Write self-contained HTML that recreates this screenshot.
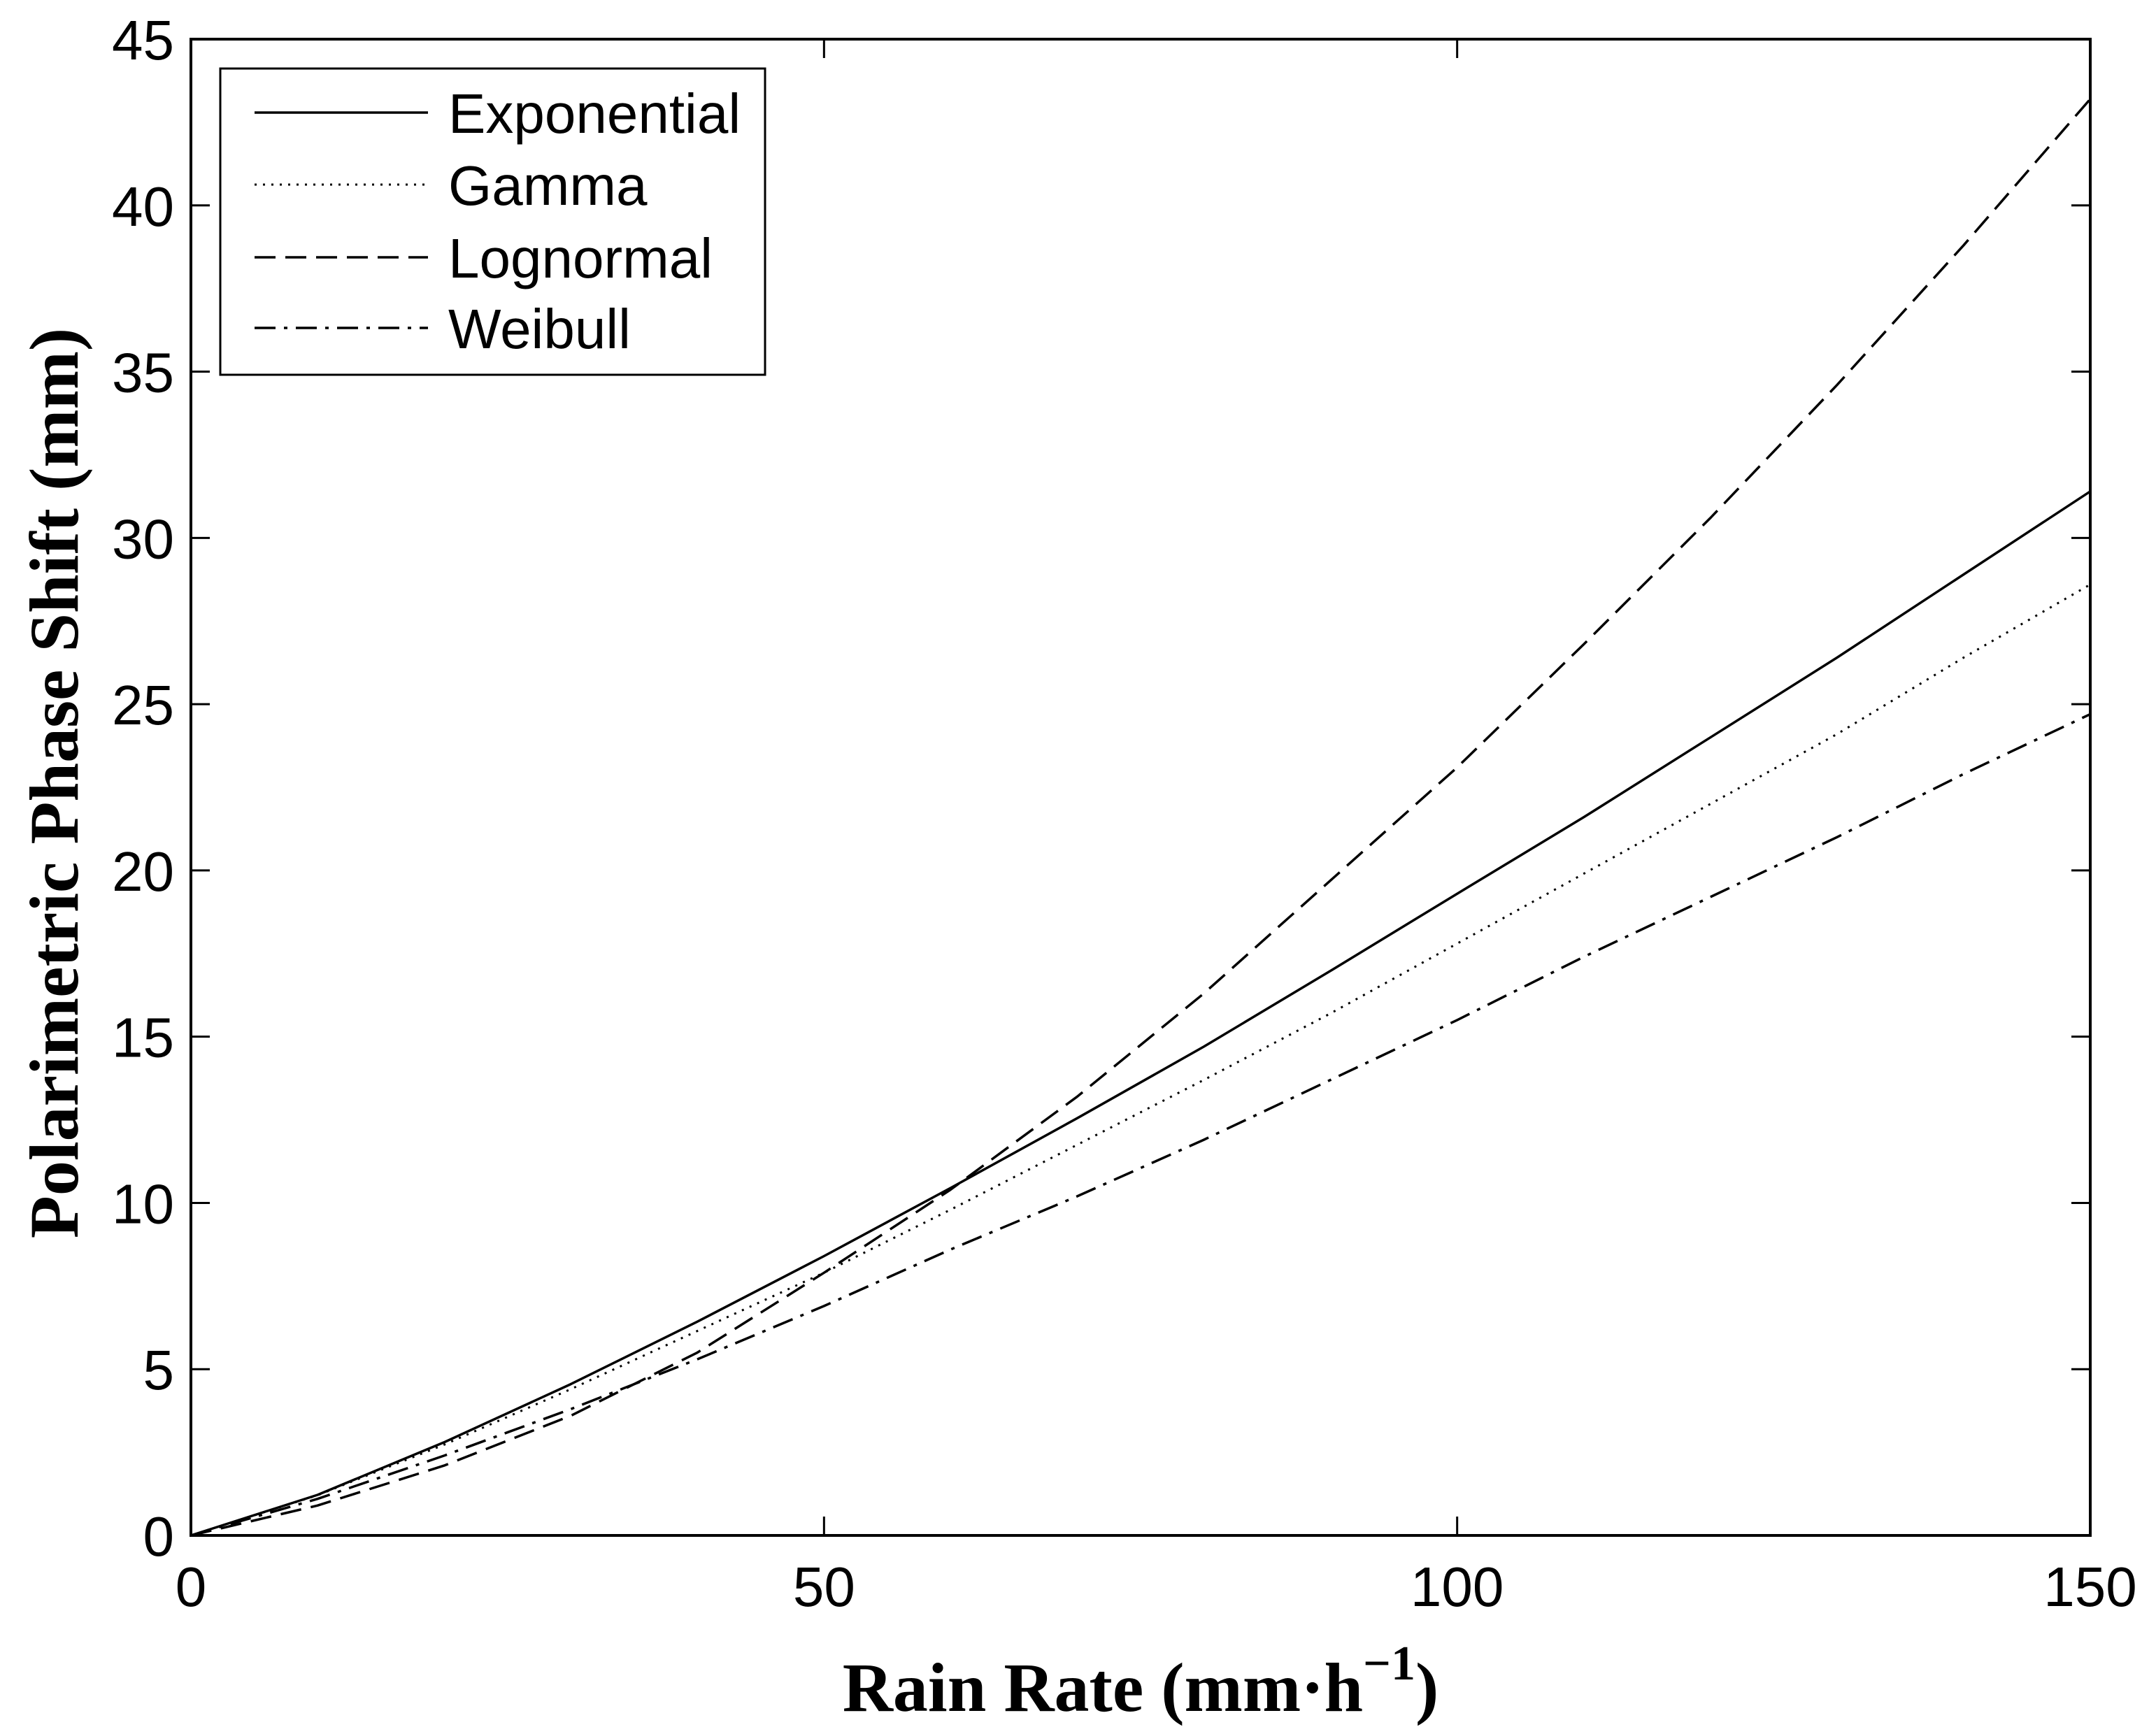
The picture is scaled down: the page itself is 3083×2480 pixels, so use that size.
<!DOCTYPE html>
<html><head><meta charset="utf-8"><style>
body{margin:0;background:#fff}
svg{display:block}
text{font-family:"Liberation Sans",Arial,sans-serif;fill:#000}
.ttl{font-family:"Liberation Serif","Times New Roman",serif;font-weight:bold}
</style></head><body>
<svg id="chart" width="3083" height="2480" viewBox="0 0 3083 2480" xmlns="http://www.w3.org/2000/svg">
<g id="plot"></g>
<text class="ttl" x="1631" y="2447" font-size="100" text-anchor="middle">Rain Rate (mm·h<tspan dy="-45" font-size="70">−1</tspan><tspan dy="45">)</tspan></text>
<text class="ttl" transform="translate(88,1120) rotate(-90)" font-size="100" text-anchor="middle" dominant-baseline="middle">Polarimetric Phase Shift (mm)</text>
</svg>
<script>
const xs = [0,10,20,30,40,50,60,70,80,90,100,110,120,130,140,150];
const expVals = [0,1.22,2.80,4.55,6.43,8.4,10.45,12.55,14.7,16.98,19.3,21.6,24.0,26.4,28.9,31.4];
const gamVals = [0,1.21,2.73,4.40,6.15,7.9,9.8,11.75,13.7,15.7,17.8,19.9,22.0,24.1,26.4,28.6];
const logVals = [0,0.9,2.1,3.6,5.5,7.9,10.4,13.2,16.3,19.7,23.1,26.8,30.6,34.6,38.8,43.2];
const weiVals = [0,1.1,2.4,3.8,5.3,6.9,8.6,10.2,11.9,13.7,15.5,17.4,19.2,21.0,22.9,24.7];
const xTicks = [0,50,100,150];
const yTicks = [0,5,10,15,20,25,30,35,40,45];
const seriesNames = ["Exponential","Gamma","Lognormal","Weibull"];

const L=273,R=2989,T=56,B=2196;
const sx=v=>L+(v-0)/(150-0)*(R-L);
const sy=v=>B-(v-0)/(45-0)*(B-T);
const NS="http://www.w3.org/2000/svg";
const g=document.getElementById('plot');
function mk(tag,attrs,parent){const e=document.createElementNS(NS,tag);for(const k in attrs)e.setAttribute(k,attrs[k]);(parent||g).appendChild(e);return e;}

const frame=mk('rect',{x:L,y:T,width:R-L,height:B-T,fill:'none',stroke:'#000','stroke-width':4});



xTicks.forEach(v=>{
  const t1=mk('line',{x1:sx(v),x2:sx(v),y1:B,y2:B-27,stroke:'#000','stroke-width':3});
  
  
  const t2=mk('line',{x1:sx(v),x2:sx(v),y1:T,y2:T+27,stroke:'#000','stroke-width':3});
  
  
  const lb=mk('text',{x:sx(v),y:2297,'font-size':80,'text-anchor':'middle'});
  lb.textContent=v;
  
  
});
yTicks.forEach(v=>{
  const t1=mk('line',{x1:L,x2:L+27,y1:sy(v),y2:sy(v),stroke:'#000','stroke-width':3});
  
  
  const t2=mk('line',{x1:R,x2:R-27,y1:sy(v),y2:sy(v),stroke:'#000','stroke-width':3});
  
  
  const lb=mk('text',{x:249,y:sy(v)+29,'font-size':80,'text-anchor':'end'});
  lb.textContent=v;
  
  
});

const styles=[
 {d:'none',w:3.5},
 {d:'3 9',w:3},
 {d:'30 14',w:3.5},
 {d:'30 12 5 12',w:3.5}
];
const allVals=[expVals,gamVals,logVals,weiVals];
allVals.forEach((vals,i)=>{
  const pts=xs.map((x,j)=>sx(x).toFixed(1)+','+sy(vals[j]).toFixed(1)).join(' ');
  const p=mk('polyline',{points:pts,fill:'none',stroke:'#000','stroke-width':styles[i].w,'stroke-dasharray':styles[i].d,'stroke-linejoin':'round'});
  
  
});

const lg=mk('g',{});


const box=mk('rect',{x:315,y:98,width:779,height:438,fill:'#fff',stroke:'#000','stroke-width':3},lg);


const rows=[161,264,368,469];
seriesNames.forEach((n,i)=>{
  const ln=mk('line',{x1:364,x2:612,y1:rows[i],y2:rows[i],stroke:'#000','stroke-width':styles[i].w,'stroke-dasharray':styles[i].d},lg);
  
  
  const tx=mk('text',{x:641,y:rows[i]+29,'font-size':80},lg);
  tx.textContent=n;
  
  
});
</script>
</body></html>
